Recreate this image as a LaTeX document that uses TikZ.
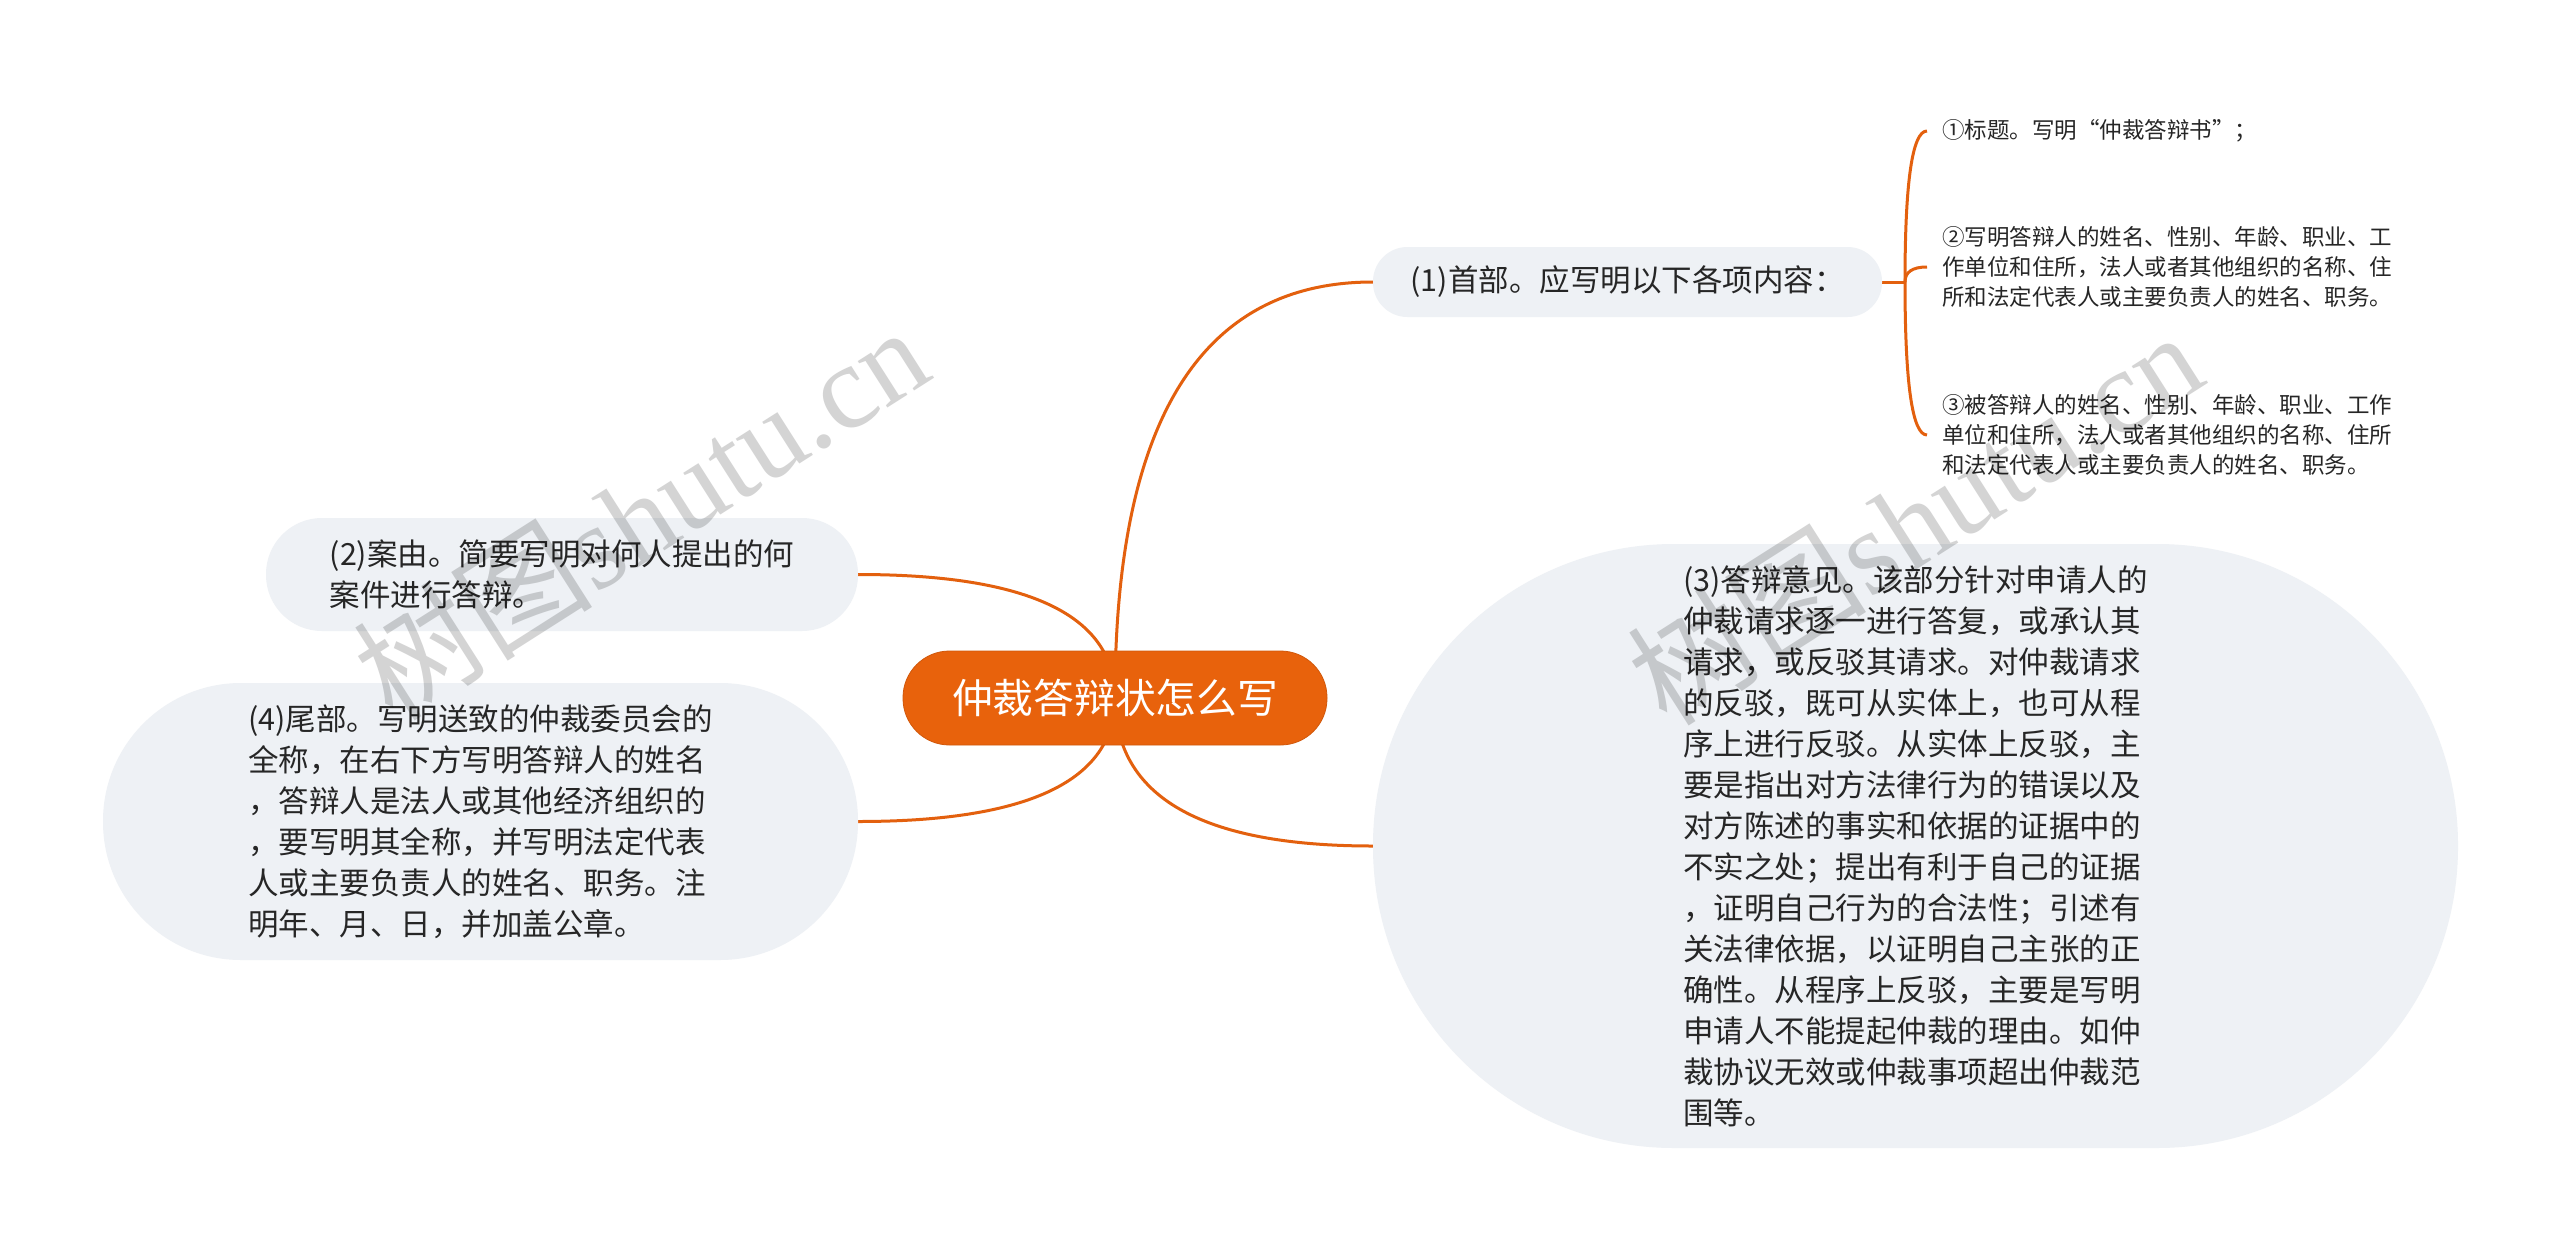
\documentclass[tikz,border=0pt]{standalone}
\usepackage{fontspec}
\setmainfont{Noto Sans CJK SC}
\newfontfamily\wmlatin{Liberation Serif}
\usetikzlibrary{calc,backgrounds}
\definecolor{lineorange}{HTML}{E3600E}
\definecolor{rootorange}{HTML}{E8620C}
\definecolor{nodegray}{HTML}{EEF1F5}
\definecolor{txt}{HTML}{262626}
\definecolor{wmgray}{HTML}{D4D4D4}
\newcommand\mmlink[2]{%
  \coordinate (q) at (#1|-#2);
  \draw[conn] (#1) .. controls ($(#1)!2/3!(q)$) and ($(#2)!2/3!(q)$) .. (#2);}
\begin{document}
\begin{tikzpicture}[x=1pt,y=-1pt,
  conn/.style={draw=lineorange, line width=3pt},
  topic/.style={fill=nodegray, text=txt, align=left, inner sep=0pt,
    font=\fontsize{30.5}{41}\selectfont},
  rootbox/.style={fill=rootorange, draw=rootorange!90!black, line width=0.8pt, text=white,
    inner sep=0pt, minimum width=424pt, minimum height=94pt, rounded corners=46.5pt,
    font=\fontsize{40.75}{48}\selectfont},
  leaf/.style={text=txt, align=left, inner xsep=15pt, inner ysep=0pt, anchor=west,
    font=\fontsize{22.5}{30}\selectfont},
  wmark/.style={text=wmgray, rotate=32.5, inner sep=0pt, font=\fontsize{120}{124}\selectfont}]
\useasboundingbox (0,0) rectangle (2560,1253);

% central topic
\node[rootbox] (root) at (1115,698) {仲裁答辩状怎么写};

% main topics
\node[topic, minimum width=509pt, minimum height=70pt, rounded corners=34.5pt] (n1) at (1627.5,282)
  {(1)首部。应写明以下各项内容：};
\node[topic, minimum width=592pt, minimum height=113pt, rounded corners=56pt] (n2) at (562,574.5)
  {(2)案由。简要写明对何人提出的何\\案件进行答辩。};
\node[topic, minimum width=1085pt, minimum height=604pt, rounded corners=301pt] (n3) at (1915.5,846)
  {(3)答辩意见。该部分针对申请人的\\仲裁请求逐一进行答复，或承认其\\请求，或反驳其请求。对仲裁请求\\的反驳，既可从实体上，也可从程\\序上进行反驳。从实体上反驳，主\\要是指出对方法律行为的错误以及\\对方陈述的事实和依据的证据中的\\不实之处；提出有利于自己的证据\\，证明自己行为的合法性；引述有\\关法律依据，以证明自己主张的正\\确性。从程序上反驳，主要是写明\\申请人不能提起仲裁的理由。如仲\\裁协议无效或仲裁事项超出仲裁范\\围等。};
\node[topic, minimum width=755pt, minimum height=277pt, rounded corners=138pt] (n4) at (480.5,821.5)
  {(4)尾部。写明送致的仲裁委员会的\\全称，在右下方写明答辩人的姓名\\，答辩人是法人或其他经济组织的\\，要写明其全称，并写明法定代表\\人或主要负责人的姓名、职务。注\\明年、月、日，并加盖公章。};

% leaves of (1)
\node[leaf] (l1) at (1927,131) {①标题。写明“仲裁答辩书”；};
\node[leaf] (l2) at (1927,267) {②写明答辩人的姓名、性别、年龄、职业、工\\作单位和住所，法人或者其他组织的名称、住\\所和法定代表人或主要负责人的姓名、职务。};
\node[leaf] (l3) at (1927,435) {③被答辩人的姓名、性别、年龄、职业、工作\\单位和住所，法人或者其他组织的名称、住所\\和法定代表人或主要负责人的姓名、职务。};

\coordinate (bk) at (1905,282);

\begin{scope}[on background layer]
  \fill[white] (0,0) rectangle (2560,1253);
  \mmlink{root.center}{n1.west}
  \mmlink{root.center}{n2.east}
  \mmlink{root.center}{n3.west}
  \mmlink{root.center}{n4.east}
  \draw[conn] (n1.east) -- (bk);
  \mmlink{bk}{l1.west}
  \mmlink{bk}{l2.west}
  \mmlink{bk}{l3.west}
\end{scope}

% watermarks
\begin{scope}[blend mode=multiply]
  \node[wmark] (wm1) at (640,512) {树图{\wmlatin shutu.cn}};
  \node[wmark] (wm2) at (1914,517) {树图{\wmlatin shutu.cn}};
\end{scope}
\end{tikzpicture}
\end{document}
